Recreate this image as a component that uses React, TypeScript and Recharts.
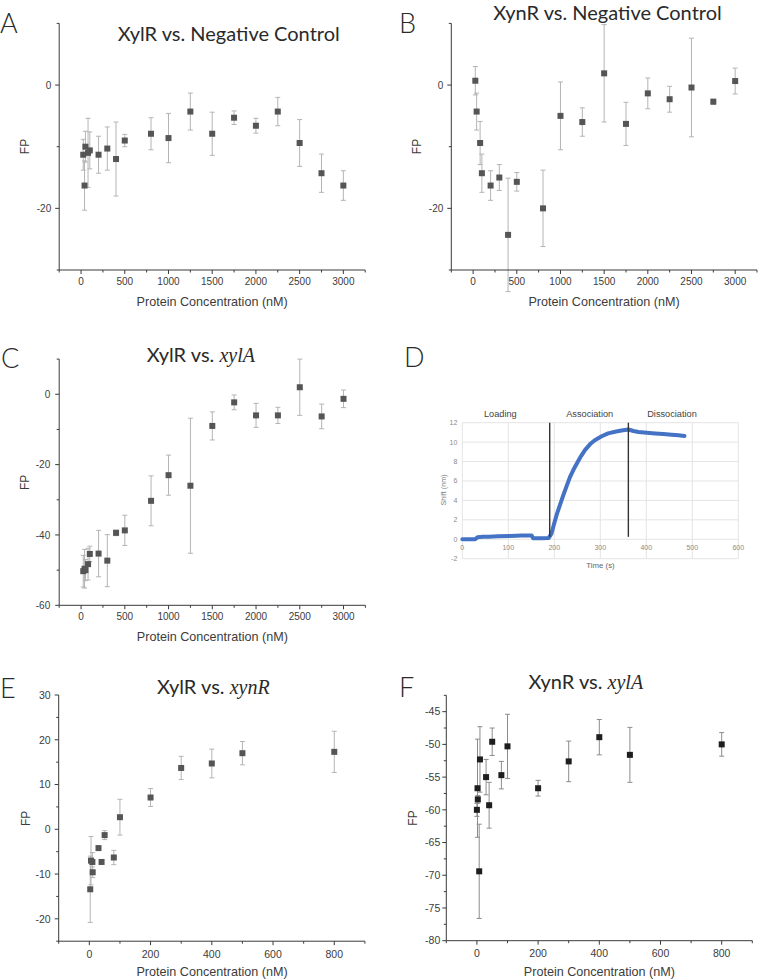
import React from "react";
import {
  ScatterChart,
  Scatter,
  XAxis,
  YAxis,
  ErrorBar,
  LineChart,
  Line,
  CartesianGrid,
  ReferenceLine,
} from "recharts";

// fonts
const SANS = "'Liberation Sans', Arial, sans-serif";
const HEAD = "Lato, 'Open Sans', sans-serif";
const SERIF = "'Liberation Serif', 'Times New Roman', serif";
const AXIS = "#3a3a3a";
const TXT = "#2a2a2a";
const LABEL = "#3c3c3c";

// ---------- A: XylR vs. negative control ----------
const concA = [25, 40, 50, 80, 100, 200, 300, 400, 500, 800, 1000, 1250, 1500, 1750, 2000, 2250, 2500, 2750, 3000];
const fpA = [-11.3, -16.3, -10.0, -11.0, -10.6, -11.3, -10.3, -12.0, -9.0, -7.9, -8.6, -4.3, -7.9, -5.3, -6.6, -4.3, -9.4, -14.3, -16.3];
const errA = [2.5, 4.0, 2.5, 5.6, 3.0, 3.0, 3.5, 6.0, 1.0, 2.6, 4.0, 3.0, 3.5, 1.1, 1.2, 2.3, 3.8, 3.1, 2.4];

// ---------- B: XynR vs. negative control ----------
const concB = [25, 40, 80, 100, 200, 300, 400, 500, 800, 1000, 1250, 1500, 1750, 2000, 2250, 2500, 2750, 3000];
const fpB = [0.7, -4.3, -9.4, -14.3, -16.3, -15.0, -24.3, -15.7, -20.0, -5.0, -6.0, 1.9, -6.3, -1.35, -2.3, -0.4, -2.7, 0.65];
const errB = [2.3, 3.0, 3.5, 3.1, 2.4, 2.1, 9.2, 1.5, 6.2, 5.5, 2.3, 7.9, 3.5, 2.5, 2.1, 8.0, 0.4, 2.1];

// ---------- C: XylR vs. xylA ----------
const concC = [25, 40, 50, 80, 100, 200, 300, 400, 500, 800, 1000, 1250, 1500, 1750, 2000, 2250, 2500, 2750, 3000];
const fpC = [-50.3, -49.6, -50.0, -48.3, -45.4, -45.3, -47.3, -39.4, -38.7, -30.3, -23.0, -26.0, -9.0, -2.3, -6.0, -6.0, 2.0, -6.3, -1.3];
const errC = [4.5, 5.5, 3.0, 4.5, 2.2, 6.6, 7.4, 0.8, 4.3, 7.1, 5.7, 19.2, 4.0, 2.1, 3.4, 2.3, 8.0, 3.5, 2.5];

// ---------- E: XylR vs. xynR ----------
const concE = [3, 5.5, 10, 11, 30, 40, 50, 80, 100, 200, 300, 400, 500, 800];
const fpE = [-13.4, -7.0, -7.3, -9.6, -4.2, -7.3, -1.3, -6.3, 2.7, 7.1, 13.7, 14.7, 17.0, 17.3];
const errE = [7.4, 5.4, 2.1, 1.2, 0.4, 0.3, 1.0, 1.6, 4.0, 2.0, 2.6, 3.2, 2.6, 4.6];

// ---------- F: XynR vs. xylA ----------
const concF = [0, 2, 3, 7.5, 10, 30, 40, 50, 80, 100, 200, 300, 400, 500, 800];
const fpF = [-60.0, -56.7, -58.4, -69.4, -52.3, -55.0, -59.3, -49.6, -54.7, -50.3, -56.7, -52.6, -48.9, -51.6, -50.0];
const errF = [1.0, 7.5, 0.6, 7.2, 5.0, 2.7, 3.5, 2.1, 2.1, 4.9, 1.2, 3.1, 2.7, 4.2, 1.8];

// ---------- D: BLI sensorgram ----------
const bliTime = [0, 10, 20, 28, 33, 45, 57, 78, 104, 129, 151, 154, 172, 188, 194, 199, 205, 212, 220, 227, 234, 241, 249, 256, 267, 278, 288, 303, 317, 332, 346, 361, 372, 383, 401, 419, 437, 455, 470, 483];
const bliShift = [0, 0, 0, 0, 0.2, 0.25, 0.27, 0.3, 0.34, 0.38, 0.38, 0.1, 0.1, 0.14, 0.6, 1.5, 2.5, 3.5, 4.6, 5.5, 6.4, 7.1, 7.8, 8.4, 9.2, 9.8, 10.2, 10.6, 10.9, 11.07, 11.2, 11.3, 11.15, 11.04, 10.97, 10.9, 10.83, 10.76, 10.7, 10.63];
const phaseEnds = [190, 361];

// tick positions
const ticksConcLong = [-250, 0, 250, 500, 750, 1000, 1250, 1500, 1750, 2000, 2250, 2500, 2750, 3000, 3250];
const ticksConcShort = [-100, 0, 100, 200, 300, 400, 500, 600, 700, 800, 900];
const ticksFpAB = [-30, -20, -10, 0, 10];
const ticksFpC = [-60, -50, -40, -30, -20, -10, 0, 10];
const ticksFpE = [-25, -20, -15, -10, -5, 0, 5, 10, 15, 20, 25, 30];
const ticksFpF = [-80, -77.5, -75, -72.5, -70, -67.5, -65, -62.5, -60, -57.5, -55, -52.5, -50, -47.5, -45, -42.5];
const ticksTime = [0, 100, 200, 300, 400, 500, 600];
const ticksShift = [-2, 0, 2, 4, 6, 8, 10, 12];

type Row = { x: number; y: number; err: number };
const rows = (xs: number[], ys: number[], es: number[]): Row[] =>
  xs.map((x, i) => ({ x, y: ys[i], err: es[i] }));

const isMultiple = (v: number, step: number) => Math.abs(v / step - Math.round(v / step)) < 1e-6;

/** x-axis tick: short minor ticks, labels only on majors */
function makeXTick(step: number, fs: number, dy: number) {
  return function XTick(props: any) {
    const { x, y, payload } = props;
    const v = payload.value as number;
    const major = isMultiple(v, step);
    return (
      <g>
        <line x1={x} y1={y} x2={x} y2={y + (major ? 4 : 2.5)} stroke={AXIS} strokeWidth={1} />
        {major && (
          <text x={x} y={y + dy} textAnchor="middle" fontSize={fs} fill={LABEL} fontFamily={SANS}>
            {v}
          </text>
        )}
      </g>
    );
  };
}

function makeYTick(step: number, fs: number, gap: number) {
  return function YTick(props: any) {
    const { x, y, payload } = props;
    const v = payload.value as number;
    const major = isMultiple(v, step);
    return (
      <g>
        <line x1={x - (major ? 4 : 2.5)} y1={y} x2={x} y2={y} stroke={AXIS} strokeWidth={1} />
        {major && (
          <text x={x - gap} y={y + fs * 0.36} textAnchor="end" fontSize={fs} fill={LABEL} fontFamily={SANS}>
            {v}
          </text>
        )}
      </g>
    );
  };
}

const square = (size: number, fill: string) =>
  function Square(p: any) {
    return <rect x={p.cx - size / 2} y={p.cy - size / 2} width={size} height={size} fill={fill} />;
  };

interface Box { left: number; top: number; width: number; height: number }
interface Plot { l: number; t: number; r: number; b: number }

interface FpPanelProps {
  box: Box;
  plot: Plot;
  data: Row[];
  xDomain: [number, number];
  xTicks: number[];
  xStep: number;
  yDomain: [number, number];
  yTicks: number[];
  yStep: number;
  fs: number;
  xLabelDy: number;
  yGap: number;
  fill: string;
  barColor: string;
}

const Y_W = 44;
const X_H = 26;

function FpPanel({ box, plot, data, xDomain, xTicks, xStep, yDomain, yTicks, yStep, fs, xLabelDy, yGap, fill, barColor }: FpPanelProps) {
  const margin = {
    top: plot.t - box.top,
    left: plot.l - box.left - Y_W,
    right: box.left + box.width - plot.r,
    bottom: box.top + box.height - plot.b - X_H,
  };
  return (
    <div style={{ position: "absolute", left: box.left, top: box.top }}>
      <ScatterChart width={box.width} height={box.height} margin={margin}>
        <XAxis
          type="number"
          dataKey="x"
          domain={xDomain}
          ticks={xTicks}
          interval={0}
          allowDataOverflow
          height={X_H}
          tickSize={0}
          tickMargin={0}
          tickLine={false}
          axisLine={{ stroke: AXIS, strokeWidth: 1 }}
          tick={makeXTick(xStep, fs, xLabelDy)}
        />
        <YAxis
          type="number"
          dataKey="y"
          domain={yDomain}
          ticks={yTicks}
          interval={0}
          allowDataOverflow
          width={Y_W}
          tickSize={0}
          tickMargin={0}
          tickLine={false}
          axisLine={{ stroke: AXIS, strokeWidth: 1 }}
          tick={makeYTick(yStep, fs, yGap)}
        />
        <Scatter data={data} fill={fill} shape={square(6, fill)} isAnimationActive={false}>
          <ErrorBar dataKey="err" direction="y" width={2.5} stroke={barColor} strokeWidth={1} isAnimationActive={false} />
        </Scatter>
      </ScatterChart>
    </div>
  );
}

function DTickX(props: any) {
  const { x, y, payload } = props;
  return (
    <text x={x} y={y - 8.5} textAnchor="middle" fontSize={7} fill="#8a8a8a" fontFamily={SANS}>
      {payload.value}
    </text>
  );
}

function DTickY(props: any) {
  const { x, y, payload } = props;
  return (
    <text x={x - 5} y={y + 2.5} textAnchor="end" fontSize={7} fill="#8a8a8a" fontFamily={SANS}>
      {payload.value}
    </text>
  );
}

function BliPanel() {
  const data = bliTime.map((t, i) => ({ t, v: bliShift[i] }));
  return (
    <div style={{ position: "absolute", left: 440, top: 400 }}>
      <LineChart width={310} height={180} data={data} margin={{ top: 22.7, left: 2.3, right: 11.7, bottom: 11.3 }}>
        <CartesianGrid stroke="#e4e4e4" strokeWidth={1} />
        <XAxis
          dataKey="t"
          type="number"
          domain={[0, 600]}
          ticks={ticksTime}
          interval={0}
          height={10}
          axisLine={false}
          tickLine={false}
          tickSize={0}
          tickMargin={0}
          tick={DTickX}
        />
        <YAxis
          type="number"
          domain={[-2, 12]}
          ticks={ticksShift}
          interval={0}
          width={20}
          axisLine={false}
          tickLine={false}
          tickSize={0}
          tickMargin={0}
          tick={DTickY}
        />
        <Line
          type="linear"
          dataKey="v"
          stroke="#4472c4"
          strokeWidth={4}
          strokeLinecap="round"
          strokeLinejoin="round"
          dot={false}
          isAnimationActive={false}
        />
        {phaseEnds.map((t) => (
          <ReferenceLine
            key={t}
            segment={[{ x: t, y: 12 }, { x: t, y: 0.25 }]}
            stroke="#333"
            strokeWidth={1.4}
          />
        ))}
      </LineChart>
    </div>
  );
}

const concLabel = "Protein Concentration (nM)";

function Labels() {
  const letter = (s: string, x: number, y: number) => (
    <text x={x} y={y} fontSize={27} fontFamily={HEAD} fill={TXT} fontWeight={300}>
      {s}
    </text>
  );
  const fp = (cx: number, cy: number) => (
    <text transform={`translate(${cx},${cy}) rotate(-90)`} textAnchor="middle" dominantBaseline="central" fontSize={12} fontFamily={SANS} fill={LABEL}>
      FP
    </text>
  );
  const conc = (cx: number, y: number) => (
    <text x={cx} y={y} textAnchor="middle" fontSize={12.6} fontFamily={SANS} fill={LABEL}>
      {concLabel}
    </text>
  );
  const title = (cx: number, y: number, lead: string, gene?: string) => (
    <text x={cx} y={y} textAnchor="middle" fontSize={20} fontFamily={HEAD} fill={TXT}>
      {lead}
      {gene && (
        <tspan fontFamily={SERIF} fontStyle="italic">
          {gene}
        </tspan>
      )}
    </text>
  );
  return (
    <svg width={759} height={980} style={{ position: "absolute", left: 0, top: 0, pointerEvents: "none" }}>
      {letter("A", 0, 33)}
      {letter("B", 399, 33)}
      {letter("C", 1, 368)}
      {letter("D", 404, 367)}
      {letter("E", 0, 698)}
      {letter("F", 399, 697)}

      {title(228.7, 40.5, "XylR vs. Negative Control")}
      {title(607.5, 19.5, "XynR vs. Negative Control")}
      {title(200.8, 361.5, "XylR vs. ", "xylA")}
      {title(213.3, 693.5, "XylR vs. ", "xynR")}
      {title(585.8, 689, "XynR vs. ", "xylA")}

      {fp(25.3, 146.5)}
      {fp(416.7, 146.5)}
      {fp(25.3, 482.3)}
      {fp(26, 818.3)}
      {fp(413.3, 818)}

      {conc(212.2, 306)}
      {conc(604, 306)}
      {conc(212.4, 641)}
      {conc(212, 976)}
      {conc(599.4, 976)}

      {/* BLI panel annotations */}
      <text x={500.3} y={417.3} textAnchor="middle" fontSize={9.2} fontFamily={SANS} fill="#444">Loading</text>
      <text x={589.7} y={417.3} textAnchor="middle" fontSize={9.2} fontFamily={SANS} fill="#444">Association</text>
      <text x={672} y={417.3} textAnchor="middle" fontSize={9.2} fontFamily={SANS} fill="#444">Dissociation</text>
      <text x={600.5} y={568} textAnchor="middle" fontSize={7.8} fontFamily={SANS} fill="#666">Time (s)</text>
      <text transform="translate(443,490) rotate(-90)" textAnchor="middle" dominantBaseline="central" fontSize={7.2} fontFamily={SANS} fill="#777">
        Shift (nm)
      </text>
    </svg>
  );
}

export default function App() {
  return (
    <div style={{ position: "absolute", left: 0, top: 0, width: 759, height: 980, background: "#fff", overflow: "hidden" }}>
      <FpPanel
        box={{ left: 0, top: 0, width: 380, height: 300 }}
        plot={{ l: 59.2, t: 23.4, r: 365.2, b: 270 }}
        data={rows(concA, fpA, errA)}
        xDomain={[-250, 3250]}
        xTicks={ticksConcLong}
        xStep={500}
        yDomain={[-30, 10]}
        yTicks={ticksFpAB}
        yStep={20}
        fs={10}
        xLabelDy={15}
        yGap={8}
        fill="#555"
        barColor="#b4b4b4"
      />
      <FpPanel
        box={{ left: 380, top: 0, width: 379, height: 300 }}
        plot={{ l: 451.3, t: 23.4, r: 757, b: 270 }}
        data={rows(concB, fpB, errB)}
        xDomain={[-250, 3250]}
        xTicks={ticksConcLong}
        xStep={500}
        yDomain={[-30, 10]}
        yTicks={ticksFpAB}
        yStep={20}
        fs={10}
        xLabelDy={15}
        yGap={8}
        fill="#555"
        barColor="#b4b4b4"
      />
      <FpPanel
        box={{ left: 0, top: 330, width: 380, height: 300 }}
        plot={{ l: 59.2, t: 359.1, r: 365.4, b: 605.3 }}
        data={rows(concC, fpC, errC)}
        xDomain={[-250, 3250]}
        xTicks={ticksConcLong}
        xStep={500}
        yDomain={[-60, 10]}
        yTicks={ticksFpC}
        yStep={20}
        fs={10}
        xLabelDy={15}
        yGap={9}
        fill="#555"
        barColor="#b4b4b4"
      />
      <BliPanel />
      <FpPanel
        box={{ left: 0, top: 660, width: 380, height: 315 }}
        plot={{ l: 58.7, t: 695, r: 364.9, b: 941.2 }}
        data={rows(concE, fpE, errE)}
        xDomain={[-100, 900]}
        xTicks={ticksConcShort}
        xStep={200}
        yDomain={[-25, 30]}
        yTicks={ticksFpE}
        yStep={10}
        fs={10.5}
        xLabelDy={16.5}
        yGap={8}
        fill="#555"
        barColor="#b4b4b4"
      />
      <FpPanel
        box={{ left: 380, top: 660, width: 379, height: 315 }}
        plot={{ l: 446.3, t: 695.3, r: 752.3, b: 940.7 }}
        data={rows(concF, fpF, errF)}
        xDomain={[-100, 900]}
        xTicks={ticksConcShort}
        xStep={200}
        yDomain={[-80, -42.5]}
        yTicks={ticksFpF}
        yStep={5}
        fs={10.5}
        xLabelDy={16.5}
        yGap={6}
        fill="#1e1e1e"
        barColor="#8c8c8c"
      />
      <Labels />
    </div>
  );
}
